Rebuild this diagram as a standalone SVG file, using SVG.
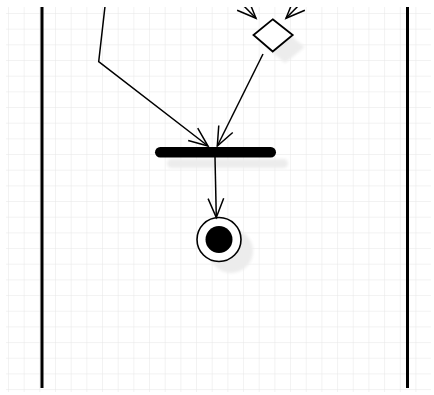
<svg xmlns="http://www.w3.org/2000/svg" width="434" height="395" viewBox="0 0 434 395">
  <defs>
    <pattern id="grid" x="8" y="13" width="15.67" height="15.67" patternUnits="userSpaceOnUse">
      <path d="M0,0 H15.67 M0,0 V15.67" fill="none" stroke="#e6e6e6" stroke-width="1"/>
    </pattern>
    <marker id="open" markerUnits="userSpaceOnUse" markerWidth="24" markerHeight="20" viewBox="-21 -10 24 20" refX="0" refY="0" orient="auto">
      <path d="M-19,-7.8 L0,0 L-19,7.8" fill="none" stroke="#000" stroke-width="1.5"/>
    </marker>
    <filter id="soft" x="-20%" y="-20%" width="140%" height="140%">
      <feGaussianBlur stdDeviation="1.5"/>
    </filter>
    <clipPath id="area"><rect x="6" y="7" width="425" height="385"/></clipPath>
    <style>
      .lane { stroke: #000; stroke-width: 3; fill: none; }
      .edge { stroke: #000; stroke-width: 1.5; fill: none; marker-end: url(#open); }
      .shadow { fill: #ececec; filter: url(#soft); }
    </style>
  </defs>
  <rect width="434" height="395" fill="#fff"/>
  <rect x="6" y="7" width="425" height="385" fill="url(#grid)"/>
  <g clip-path="url(#area)">
    <g id="lanes">
      <line class="lane" x1="42" y1="7" x2="42" y2="388"/>
      <line class="lane" x1="407.5" y1="7" x2="407.5" y2="388"/>
    </g>
    <g id="decision">
      <polygon class="shadow" points="285,31 304.7,47 285,63 266,47"/>
      <polygon points="272.7,19.3 292.7,35 272.7,51.5 253.5,35" fill="#fff" stroke="#000" stroke-width="1.8"/>
    </g>
    <g id="join-bar">
      <rect class="shadow" x="167" y="159" width="121" height="9" rx="4.5"/>
      <rect x="155" y="147" width="121" height="10.5" rx="5.2" fill="#000"/>
    </g>
    <g id="final-node">
      <circle class="shadow" cx="231" cy="251" r="22"/>
      <circle cx="219" cy="239.5" r="22" fill="#fff" stroke="#000" stroke-width="1.6"/>
      <circle cx="219" cy="239.5" r="13.5" fill="#000"/>
    </g>
    <g id="connectors">
      <line class="edge" x1="240" y1="2" x2="256" y2="18.3"/>
      <line class="edge" x1="302" y1="2" x2="286" y2="18.3"/>
      <polyline class="edge" points="105.5,2 98.7,61.7 208,146"/>
      <line class="edge" x1="263" y1="54" x2="217.3" y2="146"/>
      <line class="edge" x1="215" y1="157" x2="216.3" y2="217.5"/>
    </g>
  </g>
</svg>
